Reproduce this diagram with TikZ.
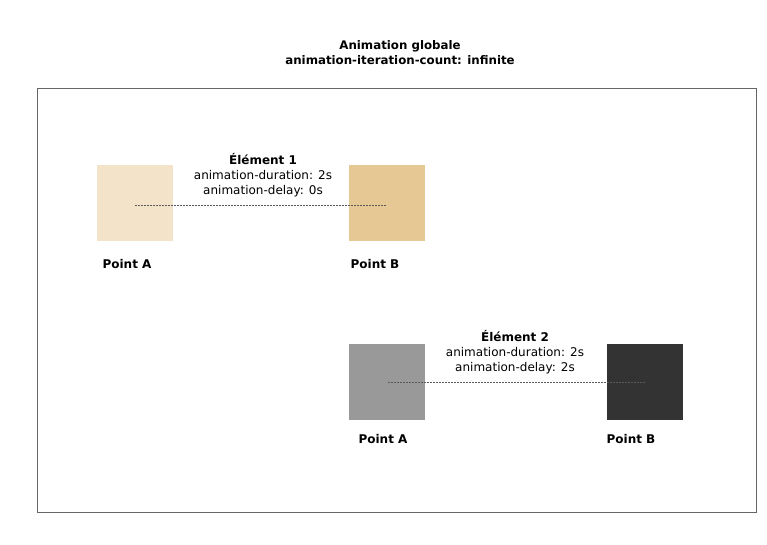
\documentclass[tikz,border=0pt]{standalone}
\usepackage{fontspec}
\setmainfont{DejaVu Sans}
\definecolor{sqa}{HTML}{F3E3C9}
\definecolor{sqb}{HTML}{E6C895}
\definecolor{sqc}{HTML}{999999}
\definecolor{sqd}{HTML}{333333}
\definecolor{framec}{HTML}{666666}
\begin{document}
\begin{tikzpicture}[x=1pt,y=-1pt,
  sq/.style={draw=none,minimum width=76pt,minimum height=76pt,inner sep=0pt,anchor=north west},
  lbl/.style={font=\fontsize{12}{14}\selectfont\bfseries,inner sep=0pt},
  info/.style={font=\fontsize{12}{15}\selectfont,align=center,inner sep=0pt},
  conn/.style={draw=black!65,line width=0.5pt,dash pattern=on 1.5pt off 1.5pt}]
\useasboundingbox (0,0) rectangle (767,544);
\node[info,font=\fontsize{11.8}{15}\selectfont\bfseries] (title) at (400,53) {Animation globale\\animation-iteration-count: infinite};
\node[draw=framec,line width=0.8pt,minimum width=719pt,minimum height=424pt,inner sep=0pt,anchor=north west] (frame) at (37,88) {};
% Element 1
\node[sq,fill=sqa] (a1) at (97,165) {};
\node[sq,fill=sqb] (b1) at (349,165) {};
\coordinate (a1c) at (135,205);
\coordinate (b1c) at (387,205);
\draw[conn] (a1c) -- (b1c);
\node[info] (e1) at (263,175) {\textbf{Élément 1}\\animation-duration: 2s\\animation-delay: 0s};
\node[lbl] (pa1) at (127,264) {Point A};
\node[lbl] (pb1) at (375,264) {Point B};
% Element 2
\node[sq,fill=sqc] (a2) at (349,344) {};
\node[sq,fill=sqd] (b2) at (607,344) {};
\coordinate (a2c) at (388,382);
\coordinate (b2c) at (646,382);
\draw[conn] (a2c) -- (b2c);
\node[info] (e2) at (515,352) {\textbf{Élément 2}\\animation-duration: 2s\\animation-delay: 2s};
\node[lbl] (pa2) at (383,439) {Point A};
\node[lbl] (pb2) at (631,439) {Point B};
\end{tikzpicture}
\end{document}
